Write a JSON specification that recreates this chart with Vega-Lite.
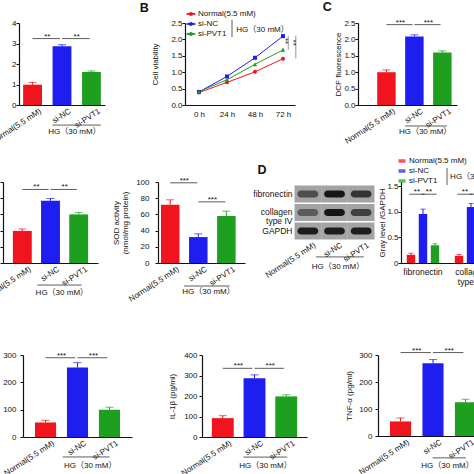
{
"$schema": "https://vega.github.io/schema/vega-lite/v6.json",
"autosize": {"type": "none"},
"padding": {"left": 0, "top": 23, "right": 474, "bottom": 451},
"background": "white",
"bounds": "flush",
"spacing": 0,
"resolve": {"scale": {"color": "independent", "shape": "independent", "opacity": "independent"}, "legend": {"color": "independent", "shape": "independent", "opacity": "independent"}},
"vconcat": [
{"bounds": "flush", "spacing": 0, "align": "each",
 "resolve": {"scale": {"color": "independent", "shape": "independent", "opacity": "independent"}, "legend": {"color": "independent", "shape": "independent", "opacity": "independent"}},
 "hconcat": [
{"width": 19, "height": 1, "data": {"values": []}, "mark": "point"},
{"width": 86, "height": 82,
 "layer": [
  {"data": {"values": [
    {"group": "Normal(5.5 mM)", "value": 0.99, "hi": 1.1},
    {"group": "si-NC", "value": 2.86, "hi": 2.94},
    {"group": "si-PVT1", "value": 1.61, "hi": 1.66}]},
   "layer": [
    {"mark": "bar", "encoding": {
      "x": {"field": "group", "type": "nominal", "title": null, "scale": {"paddingInner": 0.36, "paddingOuter": 0.14}, "axis": {"labelOffset": 6}},
      "y": {"field": "value", "type": "quantitative", "scale": {"domain": [0, 4], "nice": false}, "axis": {"title": null, "values": [0, 1, 2, 3, 4], "tickCount": 8, "format": "d", "labelPadding": 0}},
      "color": {"field": "group", "type": "nominal", "scale": {"domain": ["Normal(5.5 mM)", "si-NC", "si-PVT1"], "range": ["#f0141e", "#1e1ef0", "#1f9f1f"]}, "legend": null}}},
    {"mark": {"type": "rule", "strokeWidth": 1}, "encoding": {"x": {"field": "group", "type": "nominal"}, "y": {"field": "value", "type": "quantitative"}, "y2": {"field": "hi"}, "color": {"field": "group", "type": "nominal", "legend": null}}},
    {"mark": {"type": "tick", "size": 8, "thickness": 1}, "encoding": {"x": {"field": "group", "type": "nominal"}, "y": {"field": "hi", "type": "quantitative"}, "color": {"field": "group", "type": "nominal", "legend": null}}}
   ]},
  {"data": {"values": [
    {"from": "Normal(5.5 mM)", "to": "si-NC", "y": 3.24, "star": "**"},
    {"from": "si-NC", "to": "si-PVT1", "y": 3.24, "star": "**"}]},
   "layer": [
    {"mark": {"type": "rule", "strokeWidth": 0.8, "color": "#333"}, "encoding": {"x": {"field": "from", "type": "nominal", "bandPosition": 0.5}, "x2": {"field": "to", "bandPosition": 0.4}, "y": {"field": "y", "type": "quantitative"}}},
    {"mark": {"type": "text", "baseline": "alphabetic", "fontSize": 8}, "encoding": {"x": {"field": "from", "type": "nominal", "bandPosition": 1.28}, "y": {"field": "y", "type": "quantitative"}, "text": {"field": "star"}}}
   ]},
  {"data": {"values": [{"a": "si-NC", "b": "si-PVT1", "t": "HG（30 mM）"}]},
   "layer": [
    {"mark": {"type": "rule", "strokeWidth": 0.8, "color": "#333"}, "encoding": {"x": {"field": "a", "type": "nominal", "bandPosition": 0}, "x2": {"field": "b", "bandPosition": 1}, "y": {"datum": -0.98}}},
    {"mark": {"type": "text", "fontSize": 8}, "encoding": {"x": {"field": "a", "type": "nominal", "bandPosition": 1.16}, "y": {"datum": -1.32}, "text": {"field": "t"}}}
   ]}
 ]},
{"width": 80, "height": 1, "data": {"values": []}, "mark": "point"},
{"width": 110, "height": 82,
 "layer": [
  {"data": {"values": [
    {"time": 0, "group": "Normal(5.5 mM)", "value": 0.38, "lo": 0.35, "hi": 0.41},
    {"time": 24, "group": "Normal(5.5 mM)", "value": 0.69, "lo": 0.66, "hi": 0.72},
    {"time": 48, "group": "Normal(5.5 mM)", "value": 1.01, "lo": 0.96, "hi": 1.06},
    {"time": 72, "group": "Normal(5.5 mM)", "value": 1.41, "lo": 1.36, "hi": 1.46},
    {"time": 0, "group": "si-NC", "value": 0.4, "lo": 0.37, "hi": 0.43},
    {"time": 24, "group": "si-NC", "value": 0.87, "lo": 0.83, "hi": 0.91},
    {"time": 48, "group": "si-NC", "value": 1.44, "lo": 1.4, "hi": 1.48},
    {"time": 72, "group": "si-NC", "value": 2.1, "lo": 2.04, "hi": 2.16},
    {"time": 0, "group": "si-PVT1", "value": 0.41, "lo": 0.38, "hi": 0.44},
    {"time": 24, "group": "si-PVT1", "value": 0.77, "lo": 0.74, "hi": 0.8},
    {"time": 48, "group": "si-PVT1", "value": 1.24, "lo": 1.2, "hi": 1.28},
    {"time": 72, "group": "si-PVT1", "value": 1.68, "lo": 1.62, "hi": 1.74}]},
   "layer": [
    {"mark": {"type": "line", "strokeWidth": 1}, "encoding": {
      "x": {"field": "time", "type": "quantitative", "scale": {"domain": [-12, 82.3], "nice": false, "zero": false}, "axis": {"title": null, "values": [0, 24, 48, 72], "tickCount": 8, "labelExpr": "datum.value + ' h'", "labelAngle": 0, "labelPadding": 5, "ticks": false, "labelOverlap": false, "labelFlush": false}},
      "y": {"field": "value", "type": "quantitative", "scale": {"domain": [0, 2.5], "nice": false}, "axis": {"title": "Cell viability", "values": [0, 0.5, 1, 1.5, 2, 2.5], "tickCount": 8, "format": ".1f", "labelPadding": 0, "titlePadding": 11}},
      "color": {"field": "group", "type": "nominal", "scale": {"domain": ["Normal(5.5 mM)", "si-NC", "si-PVT1"], "range": ["#f0141e", "#1e1ef0", "#1f9f1f"]}, "legend": {"orient": "none", "legendX": 2, "legendY": -13, "title": null, "symbolType": "M-1.5,-0.12H1.5V0.12H-1.5Z M-0.45,-0.45H0.45V0.45H-0.45Z", "symbolSize": 30, "labelFontSize": 8, "rowPadding": 2, "labelOffset": 3, "symbolStrokeWidth": 1}}}},
    {"mark": {"type": "rule", "strokeWidth": 0.8}, "encoding": {"x": {"field": "time", "type": "quantitative"}, "y": {"field": "lo", "type": "quantitative"}, "y2": {"field": "hi"}, "color": {"field": "group", "type": "nominal", "legend": {"orient": "none", "legendX": 2, "legendY": -13, "title": null, "symbolType": "M-1.5,-0.12H1.5V0.12H-1.5Z M-0.45,-0.45H0.45V0.45H-0.45Z", "symbolSize": 30, "labelFontSize": 8, "rowPadding": 2, "labelOffset": 3, "symbolStrokeWidth": 1}}}},
    {"transform": [{"filter": "datum.group == 'Normal(5.5 mM)'"}],
     "mark": {"type": "point", "filled": true, "size": 16, "opacity": 1, "shape": "circle"}, "encoding": {"x": {"field": "time", "type": "quantitative"}, "y": {"field": "value", "type": "quantitative"},
      "color": {"field": "group", "type": "nominal", "legend": {"orient": "none", "legendX": 2, "legendY": -13, "title": null, "symbolType": "M-1.5,-0.12H1.5V0.12H-1.5Z M-0.45,-0.45H0.45V0.45H-0.45Z", "symbolSize": 30, "labelFontSize": 8, "rowPadding": 2, "labelOffset": 3, "symbolStrokeWidth": 1}}}},
    {"transform": [{"filter": "datum.group == 'si-NC'"}],
     "mark": {"type": "point", "filled": true, "size": 16, "opacity": 1, "shape": "square"}, "encoding": {"x": {"field": "time", "type": "quantitative"}, "y": {"field": "value", "type": "quantitative"},
      "color": {"field": "group", "type": "nominal", "legend": {"orient": "none", "legendX": 2, "legendY": -13, "title": null, "symbolType": "M-1.5,-0.12H1.5V0.12H-1.5Z M-0.45,-0.45H0.45V0.45H-0.45Z", "symbolSize": 30, "labelFontSize": 8, "rowPadding": 2, "labelOffset": 3, "symbolStrokeWidth": 1}}}},
    {"transform": [{"filter": "datum.group == 'si-PVT1'"}],
     "mark": {"type": "point", "filled": true, "size": 18, "opacity": 1, "shape": "triangle-up"}, "encoding": {"x": {"field": "time", "type": "quantitative"}, "y": {"field": "value", "type": "quantitative"},
      "color": {"field": "group", "type": "nominal", "legend": {"orient": "none", "legendX": 2, "legendY": -13, "title": null, "symbolType": "M-1.5,-0.12H1.5V0.12H-1.5Z M-0.45,-0.45H0.45V0.45H-0.45Z", "symbolSize": 30, "labelFontSize": 8, "rowPadding": 2, "labelOffset": 3, "symbolStrokeWidth": 1}}}}
   ]},
  {"data": {"values": [
    {"x": 76.5, "top": 2.1, "bottom": 1.68, "mid": 1.95, "star": "**"},
    {"x": 83, "top": 2.12, "bottom": 1.42, "mid": 1.9, "star": "**"}]},
   "layer": [
    {"mark": {"type": "rule", "strokeWidth": 0.8, "color": "#777"}, "encoding": {"x": {"field": "x", "type": "quantitative"}, "y": {"field": "top", "type": "quantitative"}, "y2": {"field": "bottom"}}},
    {"mark": {"type": "text", "angle": 90, "fontSize": 8, "dy": 3}, "encoding": {"x": {"field": "x", "type": "quantitative"}, "y": {"field": "mid", "type": "quantitative"}, "text": {"field": "star"}}}
   ]},
  {"data": {"values": [{"t": "HG（30 mM）", "p": "B"}]},
   "layer": [
    {"mark": {"type": "rule", "strokeWidth": 0.8, "color": "#333"}, "encoding": {"x": {"datum": 28.3}, "y": {"datum": 2.6}, "y2": {"datum": 2.07}}},
    {"mark": {"type": "text", "fontSize": 8, "align": "left"}, "encoding": {"x": {"datum": 32}, "y": {"datum": 2.29}, "text": {"field": "t"}}},
    {"mark": {"type": "text", "fontSize": 12.5, "fontWeight": "bold"}, "encoding": {"x": {"datum": -47}, "y": {"datum": 2.96}, "text": {"field": "p"}}}
   ]}
 ]},
{"width": 63, "height": 1, "data": {"values": []}, "mark": "point"},
{"width": 99, "height": 82,
 "layer": [
  {"data": {"values": [
    {"group": "Normal(5.5 mM)", "value": 1.0, "hi": 1.07},
    {"group": "si-NC", "value": 2.09, "hi": 2.14},
    {"group": "si-PVT1", "value": 1.6, "hi": 1.65}]},
   "layer": [
    {"mark": "bar", "encoding": {
      "x": {"field": "group", "type": "nominal", "title": null, "scale": {"paddingInner": 0.34, "paddingOuter": 0.44, "align": 0.78}, "axis": {"labelOffset": 6}},
      "y": {"field": "value", "type": "quantitative", "scale": {"domain": [0, 2.5], "nice": false}, "axis": {"title": "DCF fluorescence", "values": [0, 0.5, 1, 1.5, 2, 2.5], "tickCount": 8, "format": ".1f", "labelPadding": 0, "titlePadding": 1}},
      "color": {"field": "group", "type": "nominal", "scale": {"domain": ["Normal(5.5 mM)", "si-NC", "si-PVT1"], "range": ["#f0141e", "#1e1ef0", "#1f9f1f"]}, "legend": null}}},
    {"mark": {"type": "rule", "strokeWidth": 1}, "encoding": {"x": {"field": "group", "type": "nominal"}, "y": {"field": "value", "type": "quantitative"}, "y2": {"field": "hi"}, "color": {"field": "group", "type": "nominal", "legend": null}}},
    {"mark": {"type": "tick", "size": 8, "thickness": 1}, "encoding": {"x": {"field": "group", "type": "nominal"}, "y": {"field": "hi", "type": "quantitative"}, "color": {"field": "group", "type": "nominal", "legend": null}}}
   ]},
  {"data": {"values": [
    {"from": "Normal(5.5 mM)", "to": "si-NC", "y": 2.45, "star": "***"},
    {"from": "si-NC", "to": "si-PVT1", "y": 2.45, "star": "***"}]},
   "layer": [
    {"mark": {"type": "rule", "strokeWidth": 0.8, "color": "#333"}, "encoding": {"x": {"field": "from", "type": "nominal", "bandPosition": 0.5}, "x2": {"field": "to", "bandPosition": 0.4}, "y": {"field": "y", "type": "quantitative"}}},
    {"mark": {"type": "text", "baseline": "alphabetic", "fontSize": 8}, "encoding": {"x": {"field": "from", "type": "nominal", "bandPosition": 1.26}, "y": {"field": "y", "type": "quantitative"}, "text": {"field": "star"}}}
   ]},
  {"data": {"values": [{"a": "si-NC", "b": "si-PVT1", "t": "HG（30 mM）", "n": "Normal(5.5 mM)", "p": "C"}]},
   "layer": [
    {"mark": {"type": "rule", "strokeWidth": 0.8, "color": "#333"}, "encoding": {"x": {"field": "a", "type": "nominal", "bandPosition": 0}, "x2": {"field": "b", "bandPosition": 0.75}, "y": {"datum": -0.64}}},
    {"mark": {"type": "text", "fontSize": 8}, "encoding": {"x": {"field": "a", "type": "nominal", "bandPosition": 1.08}, "y": {"datum": -0.82}, "text": {"field": "t"}}},
    {"mark": {"type": "text", "fontSize": 12.5, "fontWeight": "bold"}, "encoding": {"x": {"field": "n", "type": "nominal", "bandPosition": -2.7}, "y": {"datum": 2.99}, "text": {"field": "p"}}}
   ]}
 ]}
]},
{"width": 1, "height": 159, "data": {"values": []}, "mark": "point"},
{"bounds": "flush", "spacing": 0, "align": "each",
 "resolve": {"scale": {"color": "independent", "shape": "independent", "opacity": "independent"}, "legend": {"color": "independent", "shape": "independent", "opacity": "independent"}},
 "hconcat": [
{"width": 3, "height": 1, "data": {"values": []}, "mark": "point"},
{"width": 95, "height": 81,
 "layer": [
  {"data": {"values": [
    {"group": "Normal(5.5 mM)", "value": 99, "hi": 105},
    {"group": "si-NC", "value": 192, "hi": 199},
    {"group": "si-PVT1", "value": 150, "hi": 156}]},
   "layer": [
    {"mark": "bar", "encoding": {
      "x": {"field": "group", "type": "nominal", "title": null, "scale": {"paddingInner": 0.33, "paddingOuter": 0.35}, "axis": {"labelOffset": 6}},
      "y": {"field": "value", "type": "quantitative", "scale": {"domain": [0, 250], "nice": false}, "axis": {"title": null, "values": [0, 50, 100, 150, 200, 250], "tickCount": 8, "labelPadding": 2}},
      "color": {"field": "group", "type": "nominal", "scale": {"domain": ["Normal(5.5 mM)", "si-NC", "si-PVT1"], "range": ["#f0141e", "#1e1ef0", "#1f9f1f"]}, "legend": null}}},
    {"mark": {"type": "rule", "strokeWidth": 1}, "encoding": {"x": {"field": "group", "type": "nominal"}, "y": {"field": "value", "type": "quantitative"}, "y2": {"field": "hi"}, "color": {"field": "group", "type": "nominal", "legend": null}}},
    {"mark": {"type": "tick", "size": 8, "thickness": 1}, "encoding": {"x": {"field": "group", "type": "nominal"}, "y": {"field": "hi", "type": "quantitative"}, "color": {"field": "group", "type": "nominal", "legend": null}}}
   ]},
  {"data": {"values": [
    {"from": "Normal(5.5 mM)", "to": "si-NC", "y": 227, "star": "**"},
    {"from": "si-NC", "to": "si-PVT1", "y": 227, "star": "**"}]},
   "layer": [
    {"mark": {"type": "rule", "strokeWidth": 0.8, "color": "#333"}, "encoding": {"x": {"field": "from", "type": "nominal", "bandPosition": 0.5}, "x2": {"field": "to", "bandPosition": 0.4}, "y": {"field": "y", "type": "quantitative"}}},
    {"mark": {"type": "text", "baseline": "alphabetic", "fontSize": 8}, "encoding": {"x": {"field": "from", "type": "nominal", "bandPosition": 1.25}, "y": {"field": "y", "type": "quantitative"}, "text": {"field": "star"}}}
   ]},
  {"data": {"values": [{"a": "si-NC", "b": "si-PVT1", "t": "HG（30 mM）"}]},
   "layer": [
    {"mark": {"type": "rule", "strokeWidth": 0.8, "color": "#333"}, "encoding": {"x": {"field": "a", "type": "nominal", "bandPosition": -0.2}, "x2": {"field": "b", "bandPosition": 0.65}, "y": {"datum": -68}}},
    {"mark": {"type": "text", "fontSize": 8}, "encoding": {"x": {"field": "a", "type": "nominal", "bandPosition": 1.1}, "y": {"datum": -93}, "text": {"field": "t"}}}
   ]}
 ]},
{"width": 60, "height": 1, "data": {"values": []}, "mark": "point"},
{"width": 87, "height": 81,
 "layer": [
  {"data": {"values": [
    {"group": "Normal(5.5 mM)", "value": 72, "hi": 78},
    {"group": "si-NC", "value": 32, "hi": 36},
    {"group": "si-PVT1", "value": 58, "hi": 64}]},
   "layer": [
    {"mark": "bar", "encoding": {
      "x": {"field": "group", "type": "nominal", "title": null, "scale": {"paddingInner": 0.34, "paddingOuter": 0.22, "align": 0.24}, "axis": {"labelOffset": 6}},
      "y": {"field": "value", "type": "quantitative", "scale": {"domain": [0, 100], "nice": false}, "axis": {"title": ["SOD activity", "(nmol/mg protein)"], "values": [0, 20, 40, 60, 80, 100], "tickCount": 8, "labelPadding": 6, "titlePadding": 6, "titleLineHeight": 9}},
      "color": {"field": "group", "type": "nominal", "scale": {"domain": ["Normal(5.5 mM)", "si-NC", "si-PVT1"], "range": ["#f0141e", "#1e1ef0", "#1f9f1f"]}, "legend": null}}},
    {"mark": {"type": "rule", "strokeWidth": 1}, "encoding": {"x": {"field": "group", "type": "nominal"}, "y": {"field": "value", "type": "quantitative"}, "y2": {"field": "hi"}, "color": {"field": "group", "type": "nominal", "legend": null}}},
    {"mark": {"type": "tick", "size": 8, "thickness": 1}, "encoding": {"x": {"field": "group", "type": "nominal"}, "y": {"field": "hi", "type": "quantitative"}, "color": {"field": "group", "type": "nominal", "legend": null}}}
   ]},
  {"data": {"values": [
    {"from": "Normal(5.5 mM)", "to": "si-NC", "y": 99, "star": "***"},
    {"from": "si-NC", "to": "si-PVT1", "y": 75.5, "star": "***"}]},
   "layer": [
    {"mark": {"type": "rule", "strokeWidth": 0.8, "color": "#333"}, "encoding": {"x": {"field": "from", "type": "nominal", "bandPosition": 0.5}, "x2": {"field": "to", "bandPosition": 0.45}, "y": {"field": "y", "type": "quantitative"}}},
    {"mark": {"type": "text", "baseline": "alphabetic", "fontSize": 8}, "encoding": {"x": {"field": "from", "type": "nominal", "bandPosition": 1.26}, "y": {"field": "y", "type": "quantitative"}, "text": {"field": "star"}}}
   ]},
  {"data": {"values": [{"a": "si-NC", "b": "si-PVT1", "t": "HG（30 mM）"}]},
   "layer": [
    {"mark": {"type": "rule", "strokeWidth": 0.8, "color": "#333"}, "encoding": {"x": {"field": "a", "type": "nominal", "bandPosition": -0.27}, "x2": {"field": "b", "bandPosition": 0.68}, "y": {"datum": -28.4}}},
    {"mark": {"type": "text", "fontSize": 8}, "encoding": {"x": {"field": "a", "type": "nominal", "bandPosition": 1.05}, "y": {"datum": -35.8}, "text": {"field": "t"}}}
   ]}
 ]},
{"width": 49, "height": 1, "data": {"values": []}, "mark": "point"},
{"width": 81, "height": 59,
 "resolve": {"scale": {"y": "independent"}, "axis": {"y": "independent"}},
 "layer": [
  {"data": {"values": [
    {"protein": "fibronectin", "lane": "Normal(5.5 mM)", "intensity": 0.6},
    {"protein": "fibronectin", "lane": "si-NC", "intensity": 1.0},
    {"protein": "fibronectin", "lane": "si-PVT1", "intensity": 0.8},
    {"protein": "collagen type IV", "lane": "Normal(5.5 mM)", "intensity": 0.5},
    {"protein": "collagen type IV", "lane": "si-NC", "intensity": 1.0},
    {"protein": "collagen type IV", "lane": "si-PVT1", "intensity": 0.7},
    {"protein": "GAPDH", "lane": "Normal(5.5 mM)", "intensity": 0.95},
    {"protein": "GAPDH", "lane": "si-NC", "intensity": 0.95},
    {"protein": "GAPDH", "lane": "si-PVT1", "intensity": 0.95}]},
   "layer": [
    {"mark": {"type": "rect", "color": "#a3a3a3"}, "encoding": {
      "x": {"field": "lane", "type": "nominal", "title": null, "scale": {"paddingInner": 0, "paddingOuter": 0.02}, "axis": {"domain": false, "ticks": false, "labelPadding": 0, "labelOffset": 5}},
      "y": {"field": "protein", "type": "nominal", "title": null, "sort": ["fibronectin", "collagen type IV", "GAPDH"], "scale": {"paddingInner": 0.08, "paddingOuter": 0.135, "align": 0.7}, "axis": {"domain": false, "ticks": false, "labelPadding": 2, "labelFontSize": 8.5, "labelLineHeight": 8.5, "labelExpr": "datum.value == 'collagen type IV' ? ['collagen', 'type IV'] : datum.value"}}}},
    {"mark": {"type": "rect", "color": "#161616", "width": {"band": 0.78}, "height": {"band": 0.42}, "cornerRadius": 4}, "encoding": {
      "x": {"field": "lane", "type": "nominal"},
      "y": {"field": "protein", "type": "nominal", "sort": ["fibronectin", "collagen type IV", "GAPDH"]},
      "opacity": {"field": "intensity", "type": "quantitative", "scale": {"domain": [0, 1], "range": [0, 1]}, "legend": null}}}
   ]},
  {"data": {"values": [{"a": "si-NC", "b": "si-PVT1", "t": "HG（30 mM）", "n": "Normal(5.5 mM)", "p": "D"}]},
   "layer": [
    {"mark": {"type": "rule", "strokeWidth": 0.8, "color": "#333"}, "encoding": {"x": {"field": "a", "type": "nominal", "bandPosition": -0.2}, "x2": {"field": "b", "bandPosition": 0.6}, "y": {"datum": -0.27, "type": "quantitative", "scale": {"domain": [0, 1]}, "axis": null}}},
    {"mark": {"type": "text", "fontSize": 8}, "encoding": {"x": {"field": "a", "type": "nominal", "bandPosition": 0.63}, "y": {"datum": -0.44, "type": "quantitative"}, "text": {"field": "t"}}},
    {"mark": {"type": "text", "fontSize": 12.5, "fontWeight": "bold"}, "encoding": {"x": {"field": "n", "type": "nominal", "bandPosition": -1.22}, "y": {"datum": 1.2, "type": "quantitative"}, "text": {"field": "p"}}}
   ]}
 ]},
{"width": 26, "height": 1, "data": {"values": []}, "mark": "point"},
{"width": 92, "height": 81,
 "layer": [
  {"data": {"values": [
    {"key": "fibronectin|Normal(5.5 mM)", "group": "Normal(5.5 mM)", "value": 0.16, "hi": 0.19},
    {"key": "fibronectin|si-NC", "group": "si-NC", "value": 0.955, "hi": 1.05},
    {"key": "fibronectin|si-PVT1", "group": "si-PVT1", "value": 0.345, "hi": 0.375},
    {"key": "collagen type IV|Normal(5.5 mM)", "group": "Normal(5.5 mM)", "value": 0.14, "hi": 0.165},
    {"key": "collagen type IV|si-NC", "group": "si-NC", "value": 1.09, "hi": 1.16},
    {"key": "collagen type IV|si-PVT1", "group": "si-PVT1", "value": 0.42, "hi": 0.47}]},
   "layer": [
    {"mark": "bar", "encoding": {
      "x": {"field": "key", "type": "nominal", "title": null, "scale": {"domain": ["fibronectin|Normal(5.5 mM)", "fibronectin|si-NC", "fibronectin|si-PVT1", "gap", "collagen type IV|Normal(5.5 mM)", "collagen type IV|si-NC", "collagen type IV|si-PVT1"], "paddingInner": 0.3, "paddingOuter": 0.48}, "axis": {"labelAngle": 0, "labelPadding": 4, "labelOverlap": false, "labelFontSize": 8.5, "labelLineHeight": 10, "labelExpr": "datum.value == 'fibronectin|si-NC' ? 'fibronectin' : datum.value == 'collagen type IV|si-NC' ? ['collagen', 'type IV'] : ''"}},
      "y": {"field": "value", "type": "quantitative", "scale": {"domain": [0, 1.578], "nice": false}, "axis": {"title": "Gray level /GAPDH", "values": [0, 0.5, 1, 1.5], "tickCount": 8, "labelExpr": "datum.value == 0 ? '0' : format(datum.value, '.1f')", "labelPadding": 0, "titlePadding": 0}},
      "color": {"field": "group", "type": "nominal", "scale": {"domain": ["Normal(5.5 mM)", "si-NC", "si-PVT1"], "range": ["#f0141e", "#1e1ef0", "#1f9f1f"]}, "legend": {"orient": "none", "legendX": -3, "legendY": -25, "title": null, "symbolType": "M-1,-0.4H1V0.4H-1Z", "symbolSize": 30, "labelFontSize": 8, "rowPadding": 0, "labelOffset": 3}}}},
    {"mark": {"type": "rule", "strokeWidth": 1}, "encoding": {"x": {"field": "key", "type": "nominal"}, "y": {"field": "value", "type": "quantitative"}, "y2": {"field": "hi"}, "color": {"field": "group", "type": "nominal", "legend": {"orient": "none", "legendX": -3, "legendY": -25, "title": null, "symbolType": "M-1,-0.4H1V0.4H-1Z", "symbolSize": 30, "labelFontSize": 8, "rowPadding": 0, "labelOffset": 3}}}},
    {"mark": {"type": "tick", "size": 5, "thickness": 1}, "encoding": {"x": {"field": "key", "type": "nominal"}, "y": {"field": "hi", "type": "quantitative"}, "color": {"field": "group", "type": "nominal", "legend": {"orient": "none", "legendX": -3, "legendY": -25, "title": null, "symbolType": "M-1,-0.4H1V0.4H-1Z", "symbolSize": 30, "labelFontSize": 8, "rowPadding": 0, "labelOffset": 3}}}}
   ]},
  {"data": {"values": [
    {"from": "fibronectin|Normal(5.5 mM)", "to": "fibronectin|si-NC", "y": 1.34, "star": "**"},
    {"from": "fibronectin|si-NC", "to": "fibronectin|si-PVT1", "y": 1.34, "star": "**"},
    {"from": "collagen type IV|Normal(5.5 mM)", "to": "collagen type IV|si-NC", "y": 1.34, "star": "**"},
    {"from": "collagen type IV|si-NC", "to": "collagen type IV|si-PVT1", "y": 1.34, "star": "**"}]},
   "layer": [
    {"mark": {"type": "rule", "strokeWidth": 0.8, "color": "#333"}, "encoding": {"x": {"field": "from", "type": "nominal", "bandPosition": 0.3}, "x2": {"field": "to", "bandPosition": 0.7}, "y": {"field": "y", "type": "quantitative"}}},
    {"mark": {"type": "text", "baseline": "alphabetic", "fontSize": 8}, "encoding": {"x": {"field": "from", "type": "nominal", "bandPosition": 1.21}, "y": {"field": "y", "type": "quantitative"}, "text": {"field": "star"}}}
   ]},
  {"data": {"values": [{"k": "fibronectin|si-PVT1", "t": "HG（30 mM）"}]},
   "layer": [
    {"mark": {"type": "rule", "strokeWidth": 0.8, "color": "#333"}, "encoding": {"x": {"field": "k", "type": "nominal", "bandPosition": 1.93}, "y": {"datum": 1.85}, "y2": {"datum": 1.52}}},
    {"mark": {"type": "text", "fontSize": 8, "align": "left"}, "encoding": {"x": {"field": "k", "type": "nominal", "bandPosition": 2.3}, "y": {"datum": 1.675}, "text": {"field": "t"}}}
   ]}
 ]}
]},
{"width": 1, "height": 173, "data": {"values": []}, "mark": "point"},
{"bounds": "flush", "spacing": 0, "align": "each",
 "resolve": {"scale": {"color": "independent", "shape": "independent", "opacity": "independent"}, "legend": {"color": "independent", "shape": "independent", "opacity": "independent"}},
 "hconcat": [
{"width": 23, "height": 1, "data": {"values": []}, "mark": "point"},
{"width": 109, "height": 82,
 "layer": [
  {"data": {"values": [
    {"group": "Normal(5.5 mM)", "value": 53, "hi": 61},
    {"group": "si-NC", "value": 254, "hi": 272},
    {"group": "si-PVT1", "value": 100, "hi": 109}]},
   "layer": [
    {"mark": "bar", "encoding": {
      "x": {"field": "group", "type": "nominal", "title": null, "scale": {"paddingInner": 0.34, "paddingOuter": 0.375}, "axis": {"labelOffset": 6}},
      "y": {"field": "value", "type": "quantitative", "scale": {"domain": [0, 300], "nice": false}, "axis": {"title": null, "values": [0, 100, 200, 300], "tickCount": 8, "labelPadding": 4}},
      "color": {"field": "group", "type": "nominal", "scale": {"domain": ["Normal(5.5 mM)", "si-NC", "si-PVT1"], "range": ["#f0141e", "#1e1ef0", "#1f9f1f"]}, "legend": null}}},
    {"mark": {"type": "rule", "strokeWidth": 1}, "encoding": {"x": {"field": "group", "type": "nominal"}, "y": {"field": "value", "type": "quantitative"}, "y2": {"field": "hi"}, "color": {"field": "group", "type": "nominal", "legend": null}}},
    {"mark": {"type": "tick", "size": 8, "thickness": 1}, "encoding": {"x": {"field": "group", "type": "nominal"}, "y": {"field": "hi", "type": "quantitative"}, "color": {"field": "group", "type": "nominal", "legend": null}}}
   ]},
  {"data": {"values": [
    {"from": "Normal(5.5 mM)", "to": "si-NC", "y": 290, "star": "***"},
    {"from": "si-NC", "to": "si-PVT1", "y": 290, "star": "***"}]},
   "layer": [
    {"mark": {"type": "rule", "strokeWidth": 0.8, "color": "#333"}, "encoding": {"x": {"field": "from", "type": "nominal", "bandPosition": 0.5}, "x2": {"field": "to", "bandPosition": 0.4}, "y": {"field": "y", "type": "quantitative"}}},
    {"mark": {"type": "text", "baseline": "alphabetic", "fontSize": 8}, "encoding": {"x": {"field": "from", "type": "nominal", "bandPosition": 1.26}, "y": {"field": "y", "type": "quantitative"}, "text": {"field": "star"}}}
   ]},
  {"data": {"values": [{"a": "si-NC", "b": "si-PVT1", "t": "HG（30 mM）"}]},
   "layer": [
    {"mark": {"type": "rule", "strokeWidth": 0.8, "color": "#333"}, "encoding": {"x": {"field": "a", "type": "nominal", "bandPosition": -0.2}, "x2": {"field": "b", "bandPosition": 0.5}, "y": {"datum": -73}}},
    {"mark": {"type": "text", "fontSize": 8}, "encoding": {"x": {"field": "a", "type": "nominal", "bandPosition": 1.1}, "y": {"datum": -106}, "text": {"field": "t"}}}
   ]}
 ]},
{"width": 70, "height": 1, "data": {"values": []}, "mark": "point"},
{"width": 105, "height": 82,
 "layer": [
  {"data": {"values": [
    {"group": "Normal(5.5 mM)", "value": 92, "hi": 104},
    {"group": "si-NC", "value": 287, "hi": 303},
    {"group": "si-PVT1", "value": 198, "hi": 206}]},
   "layer": [
    {"mark": "bar", "encoding": {
      "x": {"field": "group", "type": "nominal", "title": null, "scale": {"paddingInner": 0.31, "paddingOuter": 0.31}, "axis": {"labelOffset": 6}},
      "y": {"field": "value", "type": "quantitative", "scale": {"domain": [0, 400], "nice": false}, "axis": {"title": "IL-1β (pg/ml)", "values": [0, 100, 200, 300, 400], "tickCount": 8, "labelPadding": 2, "titlePadding": 7}},
      "color": {"field": "group", "type": "nominal", "scale": {"domain": ["Normal(5.5 mM)", "si-NC", "si-PVT1"], "range": ["#f0141e", "#1e1ef0", "#1f9f1f"]}, "legend": null}}},
    {"mark": {"type": "rule", "strokeWidth": 1}, "encoding": {"x": {"field": "group", "type": "nominal"}, "y": {"field": "value", "type": "quantitative"}, "y2": {"field": "hi"}, "color": {"field": "group", "type": "nominal", "legend": null}}},
    {"mark": {"type": "tick", "size": 8, "thickness": 1}, "encoding": {"x": {"field": "group", "type": "nominal"}, "y": {"field": "hi", "type": "quantitative"}, "color": {"field": "group", "type": "nominal", "legend": null}}}
   ]},
  {"data": {"values": [
    {"from": "Normal(5.5 mM)", "to": "si-NC", "y": 335, "star": "***"},
    {"from": "si-NC", "to": "si-PVT1", "y": 335, "star": "***"}]},
   "layer": [
    {"mark": {"type": "rule", "strokeWidth": 0.8, "color": "#333"}, "encoding": {"x": {"field": "from", "type": "nominal", "bandPosition": 0.5}, "x2": {"field": "to", "bandPosition": 0.4}, "y": {"field": "y", "type": "quantitative"}}},
    {"mark": {"type": "text", "baseline": "alphabetic", "fontSize": 8}, "encoding": {"x": {"field": "from", "type": "nominal", "bandPosition": 1.22}, "y": {"field": "y", "type": "quantitative"}, "text": {"field": "star"}}}
   ]},
  {"data": {"values": [{"a": "si-NC", "b": "si-PVT1", "t": "HG（30 mM）"}]},
   "layer": [
    {"mark": {"type": "rule", "strokeWidth": 0.8, "color": "#333"}, "encoding": {"x": {"field": "a", "type": "nominal", "bandPosition": 0}, "x2": {"field": "b", "bandPosition": 0.55}, "y": {"datum": -98}}},
    {"mark": {"type": "text", "fontSize": 8}, "encoding": {"x": {"field": "a", "type": "nominal", "bandPosition": 1.0}, "y": {"datum": -141}, "text": {"field": "t"}}}
   ]}
 ]},
{"width": 71, "height": 1, "data": {"values": []}, "mark": "point"},
{"width": 110, "height": 81,
 "layer": [
  {"data": {"values": [
    {"group": "Normal(5.5 mM)", "value": 54, "hi": 67},
    {"group": "si-NC", "value": 269, "hi": 283},
    {"group": "si-PVT1", "value": 125, "hi": 136}]},
   "layer": [
    {"mark": "bar", "encoding": {
      "x": {"field": "group", "type": "nominal", "title": null, "scale": {"paddingInner": 0.35, "paddingOuter": 0.37}, "axis": {"labelOffset": 6}},
      "y": {"field": "value", "type": "quantitative", "scale": {"domain": [0, 300], "nice": false}, "axis": {"title": "TNF-α (pg/ml)", "values": [0, 100, 200, 300], "tickCount": 8, "labelPadding": 3, "titlePadding": 5}},
      "color": {"field": "group", "type": "nominal", "scale": {"domain": ["Normal(5.5 mM)", "si-NC", "si-PVT1"], "range": ["#f0141e", "#1e1ef0", "#1f9f1f"]}, "legend": null}}},
    {"mark": {"type": "rule", "strokeWidth": 1}, "encoding": {"x": {"field": "group", "type": "nominal"}, "y": {"field": "value", "type": "quantitative"}, "y2": {"field": "hi"}, "color": {"field": "group", "type": "nominal", "legend": null}}},
    {"mark": {"type": "tick", "size": 8, "thickness": 1}, "encoding": {"x": {"field": "group", "type": "nominal"}, "y": {"field": "hi", "type": "quantitative"}, "color": {"field": "group", "type": "nominal", "legend": null}}}
   ]},
  {"data": {"values": [
    {"from": "Normal(5.5 mM)", "to": "si-NC", "y": 309, "star": "***"},
    {"from": "si-NC", "to": "si-PVT1", "y": 309, "star": "***"}]},
   "layer": [
    {"mark": {"type": "rule", "strokeWidth": 0.8, "color": "#333"}, "encoding": {"x": {"field": "from", "type": "nominal", "bandPosition": 0.5}, "x2": {"field": "to", "bandPosition": 0.4}, "y": {"field": "y", "type": "quantitative"}}},
    {"mark": {"type": "text", "baseline": "alphabetic", "fontSize": 8}, "encoding": {"x": {"field": "from", "type": "nominal", "bandPosition": 1.27}, "y": {"field": "y", "type": "quantitative"}, "text": {"field": "star"}}}
   ]},
  {"data": {"values": [{"a": "si-NC", "b": "si-PVT1", "t": "HG（30 mM）"}]},
   "layer": [
    {"mark": {"type": "rule", "strokeWidth": 0.8, "color": "#333"}, "encoding": {"x": {"field": "a", "type": "nominal", "bandPosition": 0.48}, "x2": {"field": "b", "bandPosition": 0.52}, "y": {"datum": -81}}},
    {"mark": {"type": "text", "fontSize": 8}, "encoding": {"x": {"field": "a", "type": "nominal", "bandPosition": 1.19}, "y": {"datum": -111}, "text": {"field": "t"}}}
   ]}
 ]}
]}
],
"config": {
  "view": {"stroke": null},
  "font": "Liberation Sans, Noto Sans CJK SC",
  "text": {"font": "Liberation Sans, Noto Sans CJK SC", "fontSize": 8, "color": "#111"},
  "axis": {"labelFont": "Liberation Sans, Noto Sans CJK SC", "titleFont": "Liberation Sans, Noto Sans CJK SC", "labelFontSize": 8, "titleFontSize": 8, "titleFontWeight": "normal", "labelColor": "#111", "titleColor": "#111", "domainColor": "#111", "tickColor": "#111", "domainWidth": 1.2, "tickWidth": 1, "tickSize": 3, "labelPadding": 1, "grid": false},
  "axisX": {"ticks": false, "labelAngle": -33, "labelPadding": 2},
  "legend": {"labelFont": "Liberation Sans", "labelFontSize": 8, "labelColor": "#111"}
}
}
